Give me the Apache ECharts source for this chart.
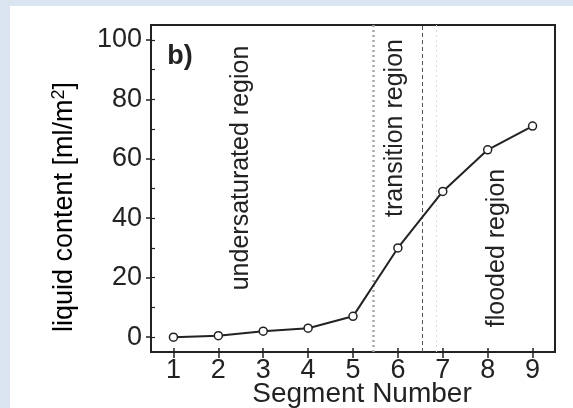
<!DOCTYPE html>
<html>
<head>
<meta charset="utf-8">
<script src="https://cdn.jsdelivr.net/npm/echarts@6/dist/echarts.min.js"></script>
<style>
  html, body { margin: 0; padding: 0; }
  body { width: 573px; height: 408px; background: #dbe5f1; position: relative; overflow: hidden; }
  #chart { position: absolute; left: 10px; top: 6px; width: 563px; height: 402px; background: #ffffff; }
</style>
</head>
<body>
<div id="chart"></div>
<script>
// Liquid content per segment along the channel
const segments = [1, 2, 3, 4, 5, 6, 7, 8, 9];
const liquidContent = [0, 0.5, 2, 3, 7, 30, 49, 63, 71];

// Tick positions
const xTicks = [1, 2, 3, 4, 5, 6, 7, 8, 9];
const yTicks = [0, 20, 40, 60, 80, 100];
const yTicksFine = [0, 10, 20, 30, 40, 50, 60, 70, 80, 90, 100];

// Region boundaries (segment coordinate)
const boundaries = [5.45, 6.55, 6.85];

const FONT = '"Liberation Sans", Arial, Helvetica, sans-serif';
const INK = '#222';

const chart = echarts.init(document.getElementById('chart'), null, { renderer: 'canvas' });

const points = segments.map((s, i) => [s, liquidContent[i]]);

const xBase = {
  type: 'value', min: 0.5, max: 9.5,
  splitLine: { show: false },
  axisLine: { show: true, onZero: false, lineStyle: { color: INK, width: 2 } }
};
const yBase = {
  type: 'value', min: -5, max: 105,
  splitLine: { show: false },
  axisLine: { show: true, onZero: false, lineStyle: { color: INK, width: 2 } }
};

chart.setOption({
  animation: false,
  grid: {
    left: 141, right: 18, top: 19, bottom: 56,
    show: true, borderColor: INK, borderWidth: 2, backgroundColor: 'transparent'
  },
  xAxis: [
    Object.assign({}, xBase, {
      axisTick: { show: true, inside: false, length: 6, customValues: xTicks, lineStyle: { color: INK, width: 1.5 } },
      axisLabel: { show: true, customValues: xTicks, margin: 5, fontFamily: FONT, fontSize: 27, color: INK }
    }),
    Object.assign({}, xBase, {
      position: 'bottom',
      axisTick: { show: true, inside: true, length: 4, customValues: xTicks, lineStyle: { color: INK, width: 1.5 } },
      axisLabel: { show: false }
    })
  ],
  yAxis: [
    Object.assign({}, yBase, {
      axisTick: { show: true, inside: false, length: 5, customValues: yTicks, lineStyle: { color: INK, width: 1.5 } },
      axisLabel: { show: true, customValues: yTicks, margin: 9, fontFamily: FONT, fontSize: 27, color: INK }
    }),
    Object.assign({}, yBase, {
      position: 'left',
      axisTick: { show: true, inside: true, length: 4, customValues: yTicksFine, lineStyle: { color: INK, width: 1.2 } },
      axisLabel: { show: false }
    })
  ],
  series: [{
    type: 'line',
    xAxisIndex: 0, yAxisIndex: 0,
    data: points,
    symbol: 'circle',
    symbolSize: 8,
    lineStyle: { color: INK, width: 2 },
    itemStyle: { color: '#fff', borderColor: INK, borderWidth: 1.5 },
    z: 5,
    markLine: {
      silent: true,
      symbol: 'none',
      label: { show: false },
      data: [
        { xAxis: boundaries[0], lineStyle: { color: '#a8a8a8', type: [2, 3], width: 2.5 } },
        { xAxis: boundaries[1], lineStyle: { color: '#555', type: [4, 3], width: 1 } },
        { xAxis: boundaries[2], lineStyle: { color: '#dcdcdc', type: [2, 3], width: 1 } }
      ]
    }
  }],
  graphic: [
    { type: 'text', x: 170, y: 51,
      style: { text: 'b)', font: 'bold 27px ' + FONT, fill: INK, textAlign: 'center', textVerticalAlign: 'middle' } },
    { type: 'text', x: 231, y: 162, rotation: Math.PI / 2,
      style: { text: 'undersaturated region', font: '25px ' + FONT, fill: INK, textAlign: 'center', textVerticalAlign: 'middle' } },
    { type: 'text', x: 385, y: 122, rotation: Math.PI / 2,
      style: { text: 'transition region', font: '25px ' + FONT, fill: INK, textAlign: 'center', textVerticalAlign: 'middle' } },
    { type: 'text', x: 487, y: 242, rotation: Math.PI / 2,
      style: { text: 'flooded region', font: '25px ' + FONT, fill: INK, textAlign: 'center', textVerticalAlign: 'middle' } },
    { type: 'text', x: 55, y: 201, rotation: Math.PI / 2,
      style: {
        text: '{a|liquid content [ml/m}{s|2}{a|]}',
        textAlign: 'center', textVerticalAlign: 'middle',
        rich: {
          a: { fontFamily: FONT, fontSize: 27, color: INK, lineHeight: 30 },
          s: { fontFamily: FONT, fontSize: 18, color: INK, verticalAlign: 'top', lineHeight: 30 }
        }
      } },
    { type: 'text', x: 352, y: 388,
      style: { text: 'Segment Number', font: '28px ' + FONT, fill: INK, textAlign: 'center', textVerticalAlign: 'middle' } }
  ]
});
</script>
</body>
</html>
